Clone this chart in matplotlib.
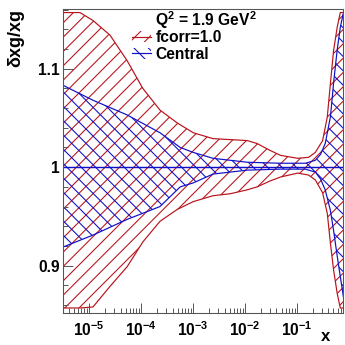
import numpy as np
import matplotlib
matplotlib.use('Agg')
import matplotlib.pyplot as plt
from matplotlib.patches import Patch
from matplotlib.lines import Line2D
from matplotlib.ticker import LogLocator, MultipleLocator, NullFormatter

plt.rcParams['font.family'] = ['Liberation Sans', 'DejaVu Sans']
plt.rcParams['font.weight'] = 'bold'
plt.rcParams['mathtext.fontset'] = 'custom'
plt.rcParams['mathtext.rm'] = 'Liberation Sans:bold'
plt.rcParams['mathtext.bf'] = 'Liberation Sans:bold'
plt.rcParams['mathtext.default'] = 'rm'
plt.rcParams['hatch.linewidth'] = 0.9

# fcorr=1.0 band (log10 x, relative uncertainty)
fcorr_logx = [-5.50, -5.18, -4.93, -4.60, -4.27, -3.97, -3.64, -3.31, -3.00, -2.62,
              -2.29, -1.96, -1.77, -1.52, -1.32, -0.99, -0.78, -0.65, -0.51, -0.42,
              -0.36, -0.30, -0.23, -0.17, -0.10]
fcorr_up = [1.157, 1.157, 1.149, 1.134, 1.108, 1.080, 1.058, 1.045, 1.035, 1.029,
            1.028, 1.027, 1.024, 1.017, 1.012, 1.009, 1.010, 1.015, 1.027, 1.051,
            1.085, 1.118, 1.142, 1.157, 1.157]
fcorr_lo = [0.857, 0.857, 0.858, 0.879, 0.899, 0.924, 0.945, 0.957, 0.965, 0.971,
            0.973, 0.977, 0.980, 0.986, 0.990, 0.994, 0.992, 0.987, 0.974, 0.953,
            0.923, 0.896, 0.872, 0.857, 0.857]

# Central band
central_logx = [-5.50, -4.93, -4.27, -3.64, -3.25, -3.00, -2.62, -1.96, -1.32, -0.84,
                -0.65, -0.55, -0.46, -0.36, -0.30, -0.23, -0.17, -0.10]
central_up = [1.083, 1.068, 1.053, 1.035, 1.020, 1.015, 1.009, 1.005, 1.004, 1.004,
              1.007, 1.013, 1.024, 1.051, 1.085, 1.119, 1.142, 1.159]
central_lo = [0.919, 0.931, 0.947, 0.960, 0.980, 0.984, 0.993, 0.997, 0.998, 0.998,
              0.995, 0.988, 0.977, 0.956, 0.936, 0.910, 0.889, 0.865]
central_val = [1.0] * len(central_logx)

ytick_vals = [0.9, 1.0, 1.1]
ytick_labels = ['0.9', '1', '1.1']
xtick_vals = [1e-5, 1e-4, 1e-3, 1e-2, 1e-1]
xtick_labels = [r'$10^{-5}$', r'$10^{-4}$', r'$10^{-3}$', r'$10^{-2}$', r'$10^{-1}$']

red = '#b8141c'
blue = '#1010c8'

fig = plt.figure(figsize=(4, 4), dpi=86.25)
ax = fig.add_axes([0.184, 0.093, 0.810, 0.882])

x1 = 10 ** np.array(fcorr_logx)
x2 = 10 ** np.array(central_logx)

ax.fill_between(x1, fcorr_lo, fcorr_up, facecolor='none', edgecolor=red,
                hatch='//', linewidth=0)
ax.plot(x1, fcorr_up, color=red, lw=1.0)
ax.plot(x1, fcorr_lo, color=red, lw=1.0)

ax.fill_between(x2, central_lo, central_up, facecolor='none', edgecolor=blue,
                hatch='\\\\', linewidth=0)
ax.plot(x2, central_up, color=blue, lw=1.0)
ax.plot(x2, central_lo, color=blue, lw=1.0)
ax.plot(x2, central_val, color=blue, lw=1.2)

ax.set_xscale('log')
ax.set_xlim(3.19e-6, 0.76)
ax.set_ylim(0.852, 1.161)

ax.set_yticks(ytick_vals)
ax.set_yticklabels(ytick_labels, fontsize=13)
ax.yaxis.set_minor_locator(MultipleLocator(0.02))
ax.set_xticks(xtick_vals)
ax.set_xticklabels(xtick_labels, fontsize=13)
ax.xaxis.set_minor_locator(LogLocator(base=10, subs=np.arange(2, 10)))
ax.xaxis.set_minor_formatter(NullFormatter())

ax.tick_params(which='both', direction='in', color='#555555', width=0.8,
               top=False, right=False)
ax.tick_params(which='major', length=8)
ax.tick_params(which='minor', length=4)
ax.tick_params(axis='x', pad=6)
ax.tick_params(axis='y', pad=3)
for s in ax.spines.values():
    s.set_color('#555555')
    s.set_linewidth(0.9)

fig.text(0.045, 0.975, 'δxg/xg', rotation=90, ha='center', va='top', fontsize=15)
fig.text(0.945, 0.012, 'x', ha='center', va='baseline', fontsize=14)

fig.text(0.449, 0.941, r'Q$^2$ = 1.9 GeV$^2$', ha='left', va='center', fontsize=13)
handles = [(Patch(facecolor='none', edgecolor=red, hatch='//', linewidth=0),
            Line2D([], [], color=red, lw=1.0)),
           (Patch(facecolor='none', edgecolor=blue, hatch='\\\\', linewidth=0),
            Line2D([], [], color=blue, lw=1.0))]
ax.legend(handles, ['fcorr=1.0', 'Central'], loc='upper left',
          bbox_to_anchor=(0.383, 0.912), bbox_transform=fig.transFigure,
          frameon=False, fontsize=13, handlelength=1.2, handleheight=0.7,
          handletextpad=0.3, labelspacing=0.1, borderpad=0, borderaxespad=0)

fig.savefig('out.png', dpi=86.25)
